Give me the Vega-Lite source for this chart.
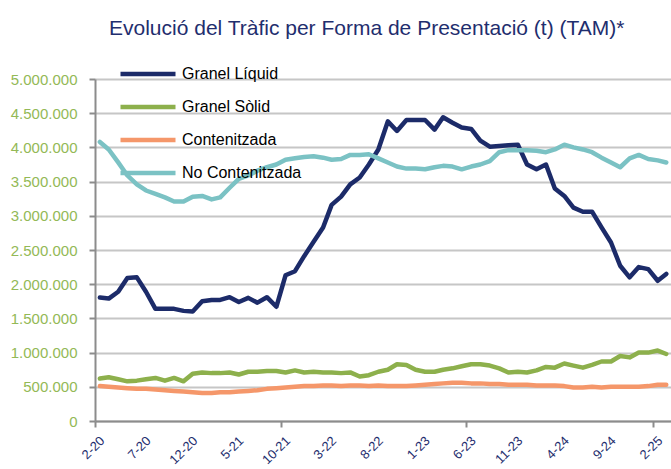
{
  "$schema": "https://vega.github.io/schema/vega-lite/v6.json",
  "width": 576,
  "height": 342,
  "autosize": {"type": "none"},
  "padding": {"left": 95, "top": 79, "right": 0, "bottom": 48},
  "background": "white",
  "title": {
    "text": "Evolució del Tràfic per Forma de Presentació (t) (TAM)*",
    "anchor": "start",
    "frame": "group",
    "dx": 14,
    "offset": 27,
    "font": "Liberation Sans",
    "fontSize": 21,
    "fontWeight": "normal",
    "color": "#1f2e6e"
  },
  "data": {
    "values": [
      {"date": "2020-02-01", "Granel Líquid": 1805000, "Granel Sòlid": 620000, "Contenitzada": 510000, "No Contenitzada": 4080000},
      {"date": "2020-03-01", "Granel Líquid": 1790000, "Granel Sòlid": 640000, "Contenitzada": 500000, "No Contenitzada": 3970000},
      {"date": "2020-04-01", "Granel Líquid": 1890000, "Granel Sòlid": 610000, "Contenitzada": 490000, "No Contenitzada": 3780000},
      {"date": "2020-05-01", "Granel Líquid": 2090000, "Granel Sòlid": 580000, "Contenitzada": 480000, "No Contenitzada": 3590000},
      {"date": "2020-06-01", "Granel Líquid": 2100000, "Granel Sòlid": 590000, "Contenitzada": 470000, "No Contenitzada": 3460000},
      {"date": "2020-07-01", "Granel Líquid": 1890000, "Granel Sòlid": 610000, "Contenitzada": 470000, "No Contenitzada": 3370000},
      {"date": "2020-08-01", "Granel Líquid": 1640000, "Granel Sòlid": 630000, "Contenitzada": 460000, "No Contenitzada": 3320000},
      {"date": "2020-09-01", "Granel Líquid": 1640000, "Granel Sòlid": 590000, "Contenitzada": 450000, "No Contenitzada": 3270000},
      {"date": "2020-10-01", "Granel Líquid": 1640000, "Granel Sòlid": 630000, "Contenitzada": 440000, "No Contenitzada": 3210000},
      {"date": "2020-11-01", "Granel Líquid": 1610000, "Granel Sòlid": 580000, "Contenitzada": 430000, "No Contenitzada": 3210000},
      {"date": "2020-12-01", "Granel Líquid": 1600000, "Granel Sòlid": 690000, "Contenitzada": 420000, "No Contenitzada": 3280000},
      {"date": "2021-01-01", "Granel Líquid": 1750000, "Granel Sòlid": 710000, "Contenitzada": 410000, "No Contenitzada": 3290000},
      {"date": "2021-02-01", "Granel Líquid": 1770000, "Granel Sòlid": 700000, "Contenitzada": 410000, "No Contenitzada": 3240000},
      {"date": "2021-03-01", "Granel Líquid": 1770000, "Granel Sòlid": 700000, "Contenitzada": 420000, "No Contenitzada": 3270000},
      {"date": "2021-04-01", "Granel Líquid": 1810000, "Granel Sòlid": 710000, "Contenitzada": 420000, "No Contenitzada": 3410000},
      {"date": "2021-05-01", "Granel Líquid": 1740000, "Granel Sòlid": 680000, "Contenitzada": 430000, "No Contenitzada": 3540000},
      {"date": "2021-06-01", "Granel Líquid": 1800000, "Granel Sòlid": 720000, "Contenitzada": 440000, "No Contenitzada": 3590000},
      {"date": "2021-07-01", "Granel Líquid": 1730000, "Granel Sòlid": 720000, "Contenitzada": 450000, "No Contenitzada": 3660000},
      {"date": "2021-08-01", "Granel Líquid": 1810000, "Granel Sòlid": 730000, "Contenitzada": 470000, "No Contenitzada": 3710000},
      {"date": "2021-09-01", "Granel Líquid": 1670000, "Granel Sòlid": 730000, "Contenitzada": 480000, "No Contenitzada": 3750000},
      {"date": "2021-10-01", "Granel Líquid": 2130000, "Granel Sòlid": 710000, "Contenitzada": 490000, "No Contenitzada": 3820000},
      {"date": "2021-11-01", "Granel Líquid": 2190000, "Granel Sòlid": 740000, "Contenitzada": 500000, "No Contenitzada": 3840000},
      {"date": "2021-12-01", "Granel Líquid": 2410000, "Granel Sòlid": 710000, "Contenitzada": 510000, "No Contenitzada": 3860000},
      {"date": "2022-01-01", "Granel Líquid": 2620000, "Granel Sòlid": 720000, "Contenitzada": 510000, "No Contenitzada": 3870000},
      {"date": "2022-02-01", "Granel Líquid": 2830000, "Granel Sòlid": 710000, "Contenitzada": 520000, "No Contenitzada": 3850000},
      {"date": "2022-03-01", "Granel Líquid": 3160000, "Granel Sòlid": 710000, "Contenitzada": 520000, "No Contenitzada": 3820000},
      {"date": "2022-04-01", "Granel Líquid": 3280000, "Granel Sòlid": 700000, "Contenitzada": 510000, "No Contenitzada": 3830000},
      {"date": "2022-05-01", "Granel Líquid": 3460000, "Granel Sòlid": 710000, "Contenitzada": 520000, "No Contenitzada": 3890000},
      {"date": "2022-06-01", "Granel Líquid": 3560000, "Granel Sòlid": 650000, "Contenitzada": 520000, "No Contenitzada": 3890000},
      {"date": "2022-07-01", "Granel Líquid": 3750000, "Granel Sòlid": 670000, "Contenitzada": 510000, "No Contenitzada": 3900000},
      {"date": "2022-08-01", "Granel Líquid": 3970000, "Granel Sòlid": 720000, "Contenitzada": 520000, "No Contenitzada": 3840000},
      {"date": "2022-09-01", "Granel Líquid": 4380000, "Granel Sòlid": 750000, "Contenitzada": 510000, "No Contenitzada": 3780000},
      {"date": "2022-10-01", "Granel Líquid": 4240000, "Granel Sòlid": 830000, "Contenitzada": 510000, "No Contenitzada": 3720000},
      {"date": "2022-11-01", "Granel Líquid": 4400000, "Granel Sòlid": 820000, "Contenitzada": 510000, "No Contenitzada": 3690000},
      {"date": "2022-12-01", "Granel Líquid": 4400000, "Granel Sòlid": 750000, "Contenitzada": 520000, "No Contenitzada": 3690000},
      {"date": "2023-01-01", "Granel Líquid": 4400000, "Granel Sòlid": 720000, "Contenitzada": 530000, "No Contenitzada": 3680000},
      {"date": "2023-02-01", "Granel Líquid": 4260000, "Granel Sòlid": 720000, "Contenitzada": 540000, "No Contenitzada": 3710000},
      {"date": "2023-03-01", "Granel Líquid": 4440000, "Granel Sòlid": 750000, "Contenitzada": 550000, "No Contenitzada": 3730000},
      {"date": "2023-04-01", "Granel Líquid": 4360000, "Granel Sòlid": 770000, "Contenitzada": 560000, "No Contenitzada": 3720000},
      {"date": "2023-05-01", "Granel Líquid": 4290000, "Granel Sòlid": 800000, "Contenitzada": 560000, "No Contenitzada": 3680000},
      {"date": "2023-06-01", "Granel Líquid": 4270000, "Granel Sòlid": 830000, "Contenitzada": 550000, "No Contenitzada": 3720000},
      {"date": "2023-07-01", "Granel Líquid": 4100000, "Granel Sòlid": 830000, "Contenitzada": 550000, "No Contenitzada": 3750000},
      {"date": "2023-08-01", "Granel Líquid": 4010000, "Granel Sòlid": 810000, "Contenitzada": 540000, "No Contenitzada": 3800000},
      {"date": "2023-09-01", "Granel Líquid": 4020000, "Granel Sòlid": 770000, "Contenitzada": 540000, "No Contenitzada": 3930000},
      {"date": "2023-10-01", "Granel Líquid": 4030000, "Granel Sòlid": 710000, "Contenitzada": 530000, "No Contenitzada": 3960000},
      {"date": "2023-11-01", "Granel Líquid": 4040000, "Granel Sòlid": 720000, "Contenitzada": 530000, "No Contenitzada": 3960000},
      {"date": "2023-12-01", "Granel Líquid": 3750000, "Granel Sòlid": 710000, "Contenitzada": 530000, "No Contenitzada": 3960000},
      {"date": "2024-01-01", "Granel Líquid": 3680000, "Granel Sòlid": 740000, "Contenitzada": 520000, "No Contenitzada": 3950000},
      {"date": "2024-02-01", "Granel Líquid": 3750000, "Granel Sòlid": 790000, "Contenitzada": 520000, "No Contenitzada": 3930000},
      {"date": "2024-03-01", "Granel Líquid": 3400000, "Granel Sòlid": 780000, "Contenitzada": 520000, "No Contenitzada": 3970000},
      {"date": "2024-04-01", "Granel Líquid": 3290000, "Granel Sòlid": 840000, "Contenitzada": 510000, "No Contenitzada": 4040000},
      {"date": "2024-05-01", "Granel Líquid": 3120000, "Granel Sòlid": 810000, "Contenitzada": 490000, "No Contenitzada": 4000000},
      {"date": "2024-06-01", "Granel Líquid": 3060000, "Granel Sòlid": 780000, "Contenitzada": 490000, "No Contenitzada": 3970000},
      {"date": "2024-07-01", "Granel Líquid": 3060000, "Granel Sòlid": 820000, "Contenitzada": 500000, "No Contenitzada": 3930000},
      {"date": "2024-08-01", "Granel Líquid": 2830000, "Granel Sòlid": 870000, "Contenitzada": 490000, "No Contenitzada": 3850000},
      {"date": "2024-09-01", "Granel Líquid": 2610000, "Granel Sòlid": 870000, "Contenitzada": 500000, "No Contenitzada": 3780000},
      {"date": "2024-10-01", "Granel Líquid": 2270000, "Granel Sòlid": 950000, "Contenitzada": 500000, "No Contenitzada": 3710000},
      {"date": "2024-11-01", "Granel Líquid": 2100000, "Granel Sòlid": 930000, "Contenitzada": 500000, "No Contenitzada": 3840000},
      {"date": "2024-12-01", "Granel Líquid": 2250000, "Granel Sòlid": 1000000, "Contenitzada": 500000, "No Contenitzada": 3890000},
      {"date": "2025-01-01", "Granel Líquid": 2220000, "Granel Sòlid": 1000000, "Contenitzada": 510000, "No Contenitzada": 3830000},
      {"date": "2025-02-01", "Granel Líquid": 2050000, "Granel Sòlid": 1030000, "Contenitzada": 530000, "No Contenitzada": 3810000},
      {"date": "2025-03-01", "Granel Líquid": 2150000, "Granel Sòlid": 980000, "Contenitzada": 530000, "No Contenitzada": 3780000}
    ]
  },
  "transform": [
    {"fold": ["Granel Líquid", "Granel Sòlid", "Contenitzada", "No Contenitzada"], "as": ["serie", "valor"]}
  ],
  "mark": {"type": "line", "strokeWidth": 4.5, "strokeJoin": "round", "strokeCap": "round"},
  "encoding": {
    "x": {
      "field": "date",
      "type": "temporal",
      "scale": {
        "type": "utc",
        "domain": [
          {"year": 2020, "month": 1, "date": 16, "utc": true},
          {"year": 2025, "month": 3, "date": 16, "hours": 12, "utc": true}
        ]
      },
      "axis": {
        "title": null,
        "grid": false,
        "values": [
          {"year": 2020, "month": 1, "date": 16, "utc": true},
          {"year": 2021, "month": 9, "date": 16, "utc": true},
          {"year": 2023, "month": 5, "date": 16, "utc": true},
          {"year": 2025, "month": 1, "date": 16, "utc": true},
          {"year": 2020, "month": 2, "date": 1, "utc": true},
          {"year": 2020, "month": 7, "date": 1, "utc": true},
          {"year": 2020, "month": 12, "date": 1, "utc": true},
          {"year": 2021, "month": 5, "date": 1, "utc": true},
          {"year": 2021, "month": 10, "date": 1, "utc": true},
          {"year": 2022, "month": 3, "date": 1, "utc": true},
          {"year": 2022, "month": 8, "date": 1, "utc": true},
          {"year": 2023, "month": 1, "date": 1, "utc": true},
          {"year": 2023, "month": 6, "date": 1, "utc": true},
          {"year": 2023, "month": 11, "date": 1, "utc": true},
          {"year": 2024, "month": 4, "date": 1, "utc": true},
          {"year": 2024, "month": 9, "date": 1, "utc": true},
          {"year": 2025, "month": 2, "date": 1, "utc": true}
        ],
        "labelExpr": "utcdate(datum.value) == 1 ? utcFormat(datum.value, '%-m-%y') : ''",
        "labelAngle": -45,
        "labelColor": "#1f2e6e",
        "labelFont": "Liberation Sans",
        "labelFontSize": 13,
        "labelOverlap": false,
        "labelFlush": false,
        "labelBound": false,
        "labelPadding": 7,
        "labelOffset": -2,
        "tickSize": 6,
        "tickWidth": 2,
        "tickColor": "#8c8c8c",
        "tickOpacity": {"condition": {"test": "utcdate(datum.value) == 16", "value": 1}, "value": 0},
        "domainColor": "#8c8c8c",
        "domainWidth": 2
      }
    },
    "y": {
      "field": "valor",
      "type": "quantitative",
      "scale": {"domain": [0, 5000000], "nice": false, "zero": true},
      "axis": {
        "title": null,
        "values": [0, 500000, 1000000, 1500000, 2000000, 2500000, 3000000, 3500000, 4000000, 4500000, 5000000],
        "labelExpr": "replace(format(datum.value, ','), /,/g, '.')",
        "labelColor": "#93b956",
        "labelFont": "Liberation Sans",
        "labelFontSize": 15,
        "labelPadding": 12,
        "tickSize": 6,
        "tickWidth": 2,
        "tickColor": "#8c8c8c",
        "domainColor": "#8c8c8c",
        "domainWidth": 2,
        "grid": true,
        "gridColor": "#c6c6c6",
        "gridWidth": 2
      }
    },
    "color": {
      "field": "serie",
      "type": "nominal",
      "scale": {
        "domain": ["Granel Líquid", "Granel Sòlid", "Contenitzada", "No Contenitzada"],
        "range": ["#1c2b69", "#8db04c", "#f5976a", "#7bc2c4"]
      },
      "legend": {
        "orient": "none",
        "legendX": 45,
        "legendY": -13,
        "title": null,
        "symbolType": "M-5,0L5,0",
        "symbolSize": 121,
        "symbolStrokeWidth": 4.5,
        "labelFont": "Liberation Sans",
        "labelFontSize": 16,
        "labelColor": "#000000",
        "labelOffset": 26,
        "rowPadding": 15
      }
    }
  },
  "config": {"view": {"stroke": null}}
}
